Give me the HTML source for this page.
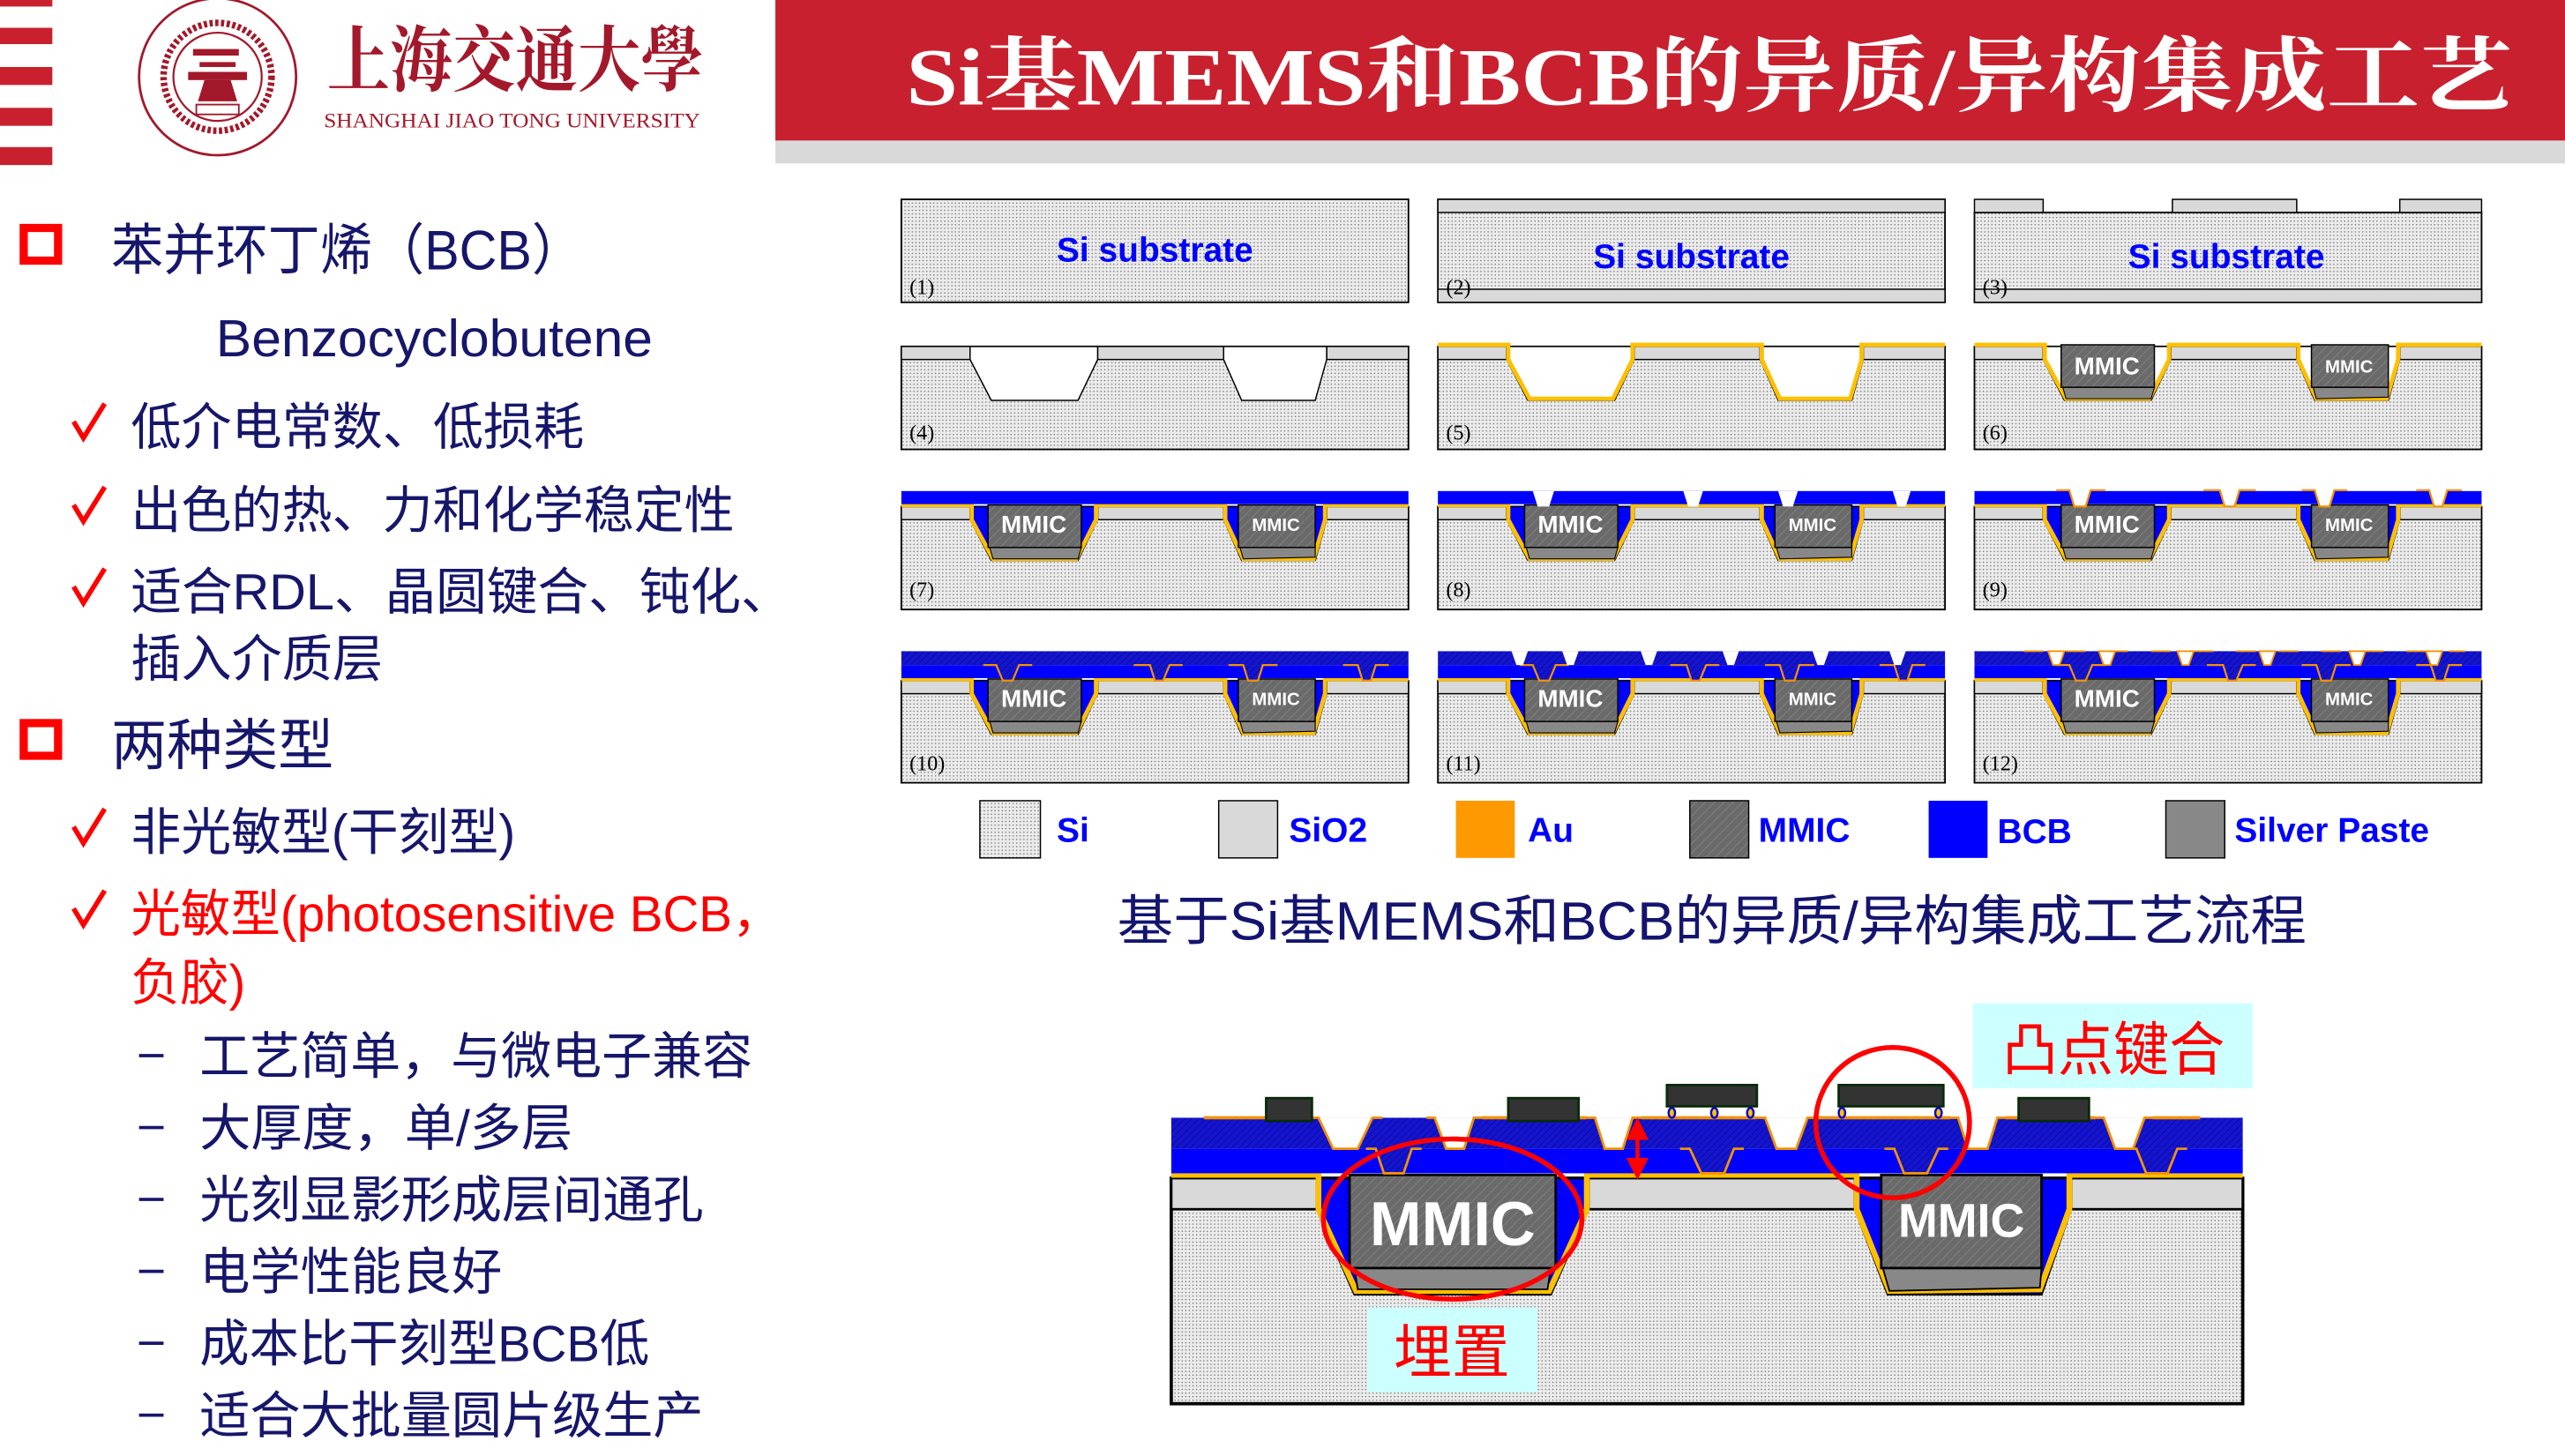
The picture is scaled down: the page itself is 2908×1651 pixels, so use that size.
<!DOCTYPE html>
<html><head><meta charset="utf-8"><style>
html,body{margin:0;padding:0;background:#fff;}
svg{display:block;}
.cn{font-family:"Liberation Sans","Noto Sans CJK SC",sans-serif;}
.ab{font-family:"Liberation Sans",sans-serif;font-weight:bold;}
.sf{font-family:"Liberation Serif",serif;}
.tt{font-family:"Liberation Serif","Noto Serif CJK SC",serif;font-weight:bold;}
</style></head><body>
<svg width="2908" height="1651" viewBox="0 0 1568 891" preserveAspectRatio="none" xmlns="http://www.w3.org/2000/svg">
<defs>
<pattern id="dot" patternUnits="userSpaceOnUse" width="2.2" height="2.2"><rect width="2.2" height="2.2" fill="#ebebeb"/><circle cx="1.1" cy="1.1" r="0.42" fill="#777"/></pattern>
<pattern id="hat" patternUnits="userSpaceOnUse" width="4" height="4" patternTransform="rotate(45)"><rect width="4" height="4" fill="#6a6a6a"/><line x1="0" y1="0" x2="0" y2="4" stroke="#7e7e7e" stroke-width="1.2"/></pattern>
<pattern id="bh" patternUnits="userSpaceOnUse" width="3" height="3" patternTransform="rotate(45)"><rect width="3" height="3" fill="#1414d0"/><line x1="0" y1="0" x2="0" y2="3" stroke="#08088a" stroke-width="0.8"/></pattern>
<g id="ox" fill="#d9d9d9" stroke="#000" stroke-width="0.8"><rect x="0" y="0" width="42" height="8"/><rect x="120" y="0" width="77" height="8"/><rect x="260" y="0" width="50" height="8"/></g>
<g id="tr"><polygon points="42,0 42,8 55,33 108,33 120,8 120,0"/><polygon points="197,0 197,8 208,33 253,33 260,8 260,0"/></g>
<polyline id="au" points="0,-1 43,-1 43,8 56,32 107,32 119,8 119,-1 198,-1 198,8 209,32 252,32 259,8 259,-1 310,-1" fill="none" stroke="#ffc000" stroke-width="2.6"/>
<g id="chips"><polygon points="54,25 110,25 108,32 56,32" fill="#888" stroke="#000" stroke-width="0.6"/><rect x="53" y="-1" width="57" height="26" fill="url(#hat)" stroke="#000" stroke-width="0.8"/><polygon points="207,25 253,25 253,31 209,32" fill="#888" stroke="#000" stroke-width="0.6"/><rect x="206" y="-1" width="47" height="26" fill="url(#hat)" stroke="#000" stroke-width="0.8"/></g>
<g id="v8" fill="#fff"><polygon points="58,-9.5 71,-9.5 68,0 61,0"/><polygon points="150,-9.5 162,-9.5 159,0 153,0"/><polygon points="208,-9.5 220,-9.5 217,0 211,0"/><polygon points="278,-9.5 289,-9.5 286,0 281,0"/></g>
<g id="v9" fill="#fff" stroke="#f39200" stroke-width="1.2"><polyline points="50,-10 58,-10 61,0 68,0 71,-10 80,-10"/><polyline points="140,-10 150,-10 153,0 159,0 162,-10 172,-10"/><polyline points="200,-10 208,-10 211,0 217,0 220,-10 228,-10"/><polyline points="270,-10 278,-10 281,0 286,0 289,-10 298,-10"/></g>
<g id="lv" fill="url(#bh)" stroke="#f39200" stroke-width="1.2"><polyline points="50,-9.5 58,-9.5 62,0 68,0 72,-9.5 80,-9.5"/><polyline points="142,-9.5 152,-9.5 155,0 160,0 164,-9.5 172,-9.5"/><polyline points="200,-9.5 209,-9.5 212,0 218,0 221,-9.5 230,-9.5"/><polyline points="270,-9.5 279,-9.5 282,0 287,0 290,-9.5 298,-9.5"/></g>
<g id="uv" fill="#fff"><polygon points="45,-18 55,-18 52,-9.5 48,-9.5"/><polygon points="76,-18 86,-18 83,-9.5 79,-9.5"/><polygon points="124,-18 134,-18 131,-9.5 127,-9.5"/><polygon points="174,-18 184,-18 181,-9.5 177,-9.5"/><polygon points="229,-18 239,-18 236,-9.5 232,-9.5"/><polygon points="276,-18 286,-18 283,-9.5 279,-9.5"/></g>
</defs>

<!-- header -->
<g fill="#c8202e"><rect x="0" y="0" width="32" height="4"/><rect x="0" y="17" width="32" height="10"/><rect x="0" y="41" width="32" height="11"/><rect x="0" y="66" width="32" height="11"/><rect x="0" y="90" width="32" height="11"/></g>
<g fill="none" stroke="#a3182a"><circle cx="133" cy="47" r="48" stroke-width="1.5"/><circle cx="133" cy="47" r="33" stroke-width="4" stroke-dasharray="2 1.5"/><circle cx="133" cy="47" r="27" stroke-width="1.2"/></g>
<g fill="#a3182a"><rect x="118" y="30" width="28" height="4"/><rect x="122" y="38" width="22" height="3"/><rect x="115" y="44" width="36" height="5"/><polygon points="125,49 141,49 145,62 121,62"/><rect x="120" y="64" width="26" height="6" fill="none" stroke="#a3182a"/></g>
<text x="200" y="52" class="tt" font-size="44" fill="#a3182a" textLength="230" lengthAdjust="spacingAndGlyphs" style="font-family:'Noto Serif CJK SC',serif;font-weight:bold">上海交通大學</text>
<text x="198" y="78" class="sf" font-size="12.5" fill="#a3182a" textLength="230" lengthAdjust="spacingAndGlyphs">SHANGHAI JIAO TONG UNIVERSITY</text>
<rect x="474" y="86" width="1094" height="14" fill="#d9d9d9"/>
<rect x="474" y="0" width="1094" height="86" fill="#c8202e"/>
<text x="554" y="64" class="tt" font-size="50" fill="#fff" textLength="982" lengthAdjust="spacingAndGlyphs">Si基MEMS和BCB的异质/异构集成工艺</text>

<!-- left text -->
<g fill="none" stroke="#f00" stroke-width="5"><rect x="14.5" y="139.5" width="21" height="20"/><rect x="14.5" y="442.5" width="21" height="20"/></g>
<g class="cn" fill="#16166b">
<text x="68" y="165" font-size="34" textLength="289" lengthAdjust="spacingAndGlyphs">苯并环丁烯（BCB）</text>
<text x="132" y="218" font-size="32" textLength="267" lengthAdjust="spacingAndGlyphs">Benzocyclobutene</text>
<text x="80" y="272" font-size="31" textLength="277" lengthAdjust="spacingAndGlyphs">低介电常数、低损耗</text>
<text x="80" y="323" font-size="31" textLength="369" lengthAdjust="spacingAndGlyphs">出色的热、力和化学稳定性</text>
<text x="80" y="373" font-size="31" textLength="404" lengthAdjust="spacingAndGlyphs">适合RDL、晶圆键合、钝化、</text>
<text x="80" y="414" font-size="31" textLength="154" lengthAdjust="spacingAndGlyphs">插入介质层</text>
<text x="68" y="468" font-size="34" textLength="136" lengthAdjust="spacingAndGlyphs">两种类型</text>
<text x="80" y="520" font-size="31" textLength="235" lengthAdjust="spacingAndGlyphs">非光敏型(干刻型)</text>
<text x="80" y="570" font-size="31" fill="#f00" textLength="398" lengthAdjust="spacingAndGlyphs">光敏型(photosensitive BCB，</text>
<text x="80" y="612" font-size="31" fill="#f00" textLength="70" lengthAdjust="spacingAndGlyphs">负胶)</text>
<text x="122" y="657" font-size="31" textLength="338" lengthAdjust="spacingAndGlyphs">工艺简单，与微电子兼容</text>
<text x="122" y="701" font-size="31" textLength="228" lengthAdjust="spacingAndGlyphs">大厚度，单/多层</text>
<text x="122" y="745" font-size="31" textLength="308" lengthAdjust="spacingAndGlyphs">光刻显影形成层间通孔</text>
<text x="122" y="789" font-size="31" textLength="185" lengthAdjust="spacingAndGlyphs">电学性能良好</text>
<text x="122" y="833" font-size="31" textLength="275" lengthAdjust="spacingAndGlyphs">成本比干刻型BCB低</text>
<text x="122" y="877" font-size="31" textLength="308" lengthAdjust="spacingAndGlyphs">适合大批量圆片级生产</text>
</g>
<g stroke="#16166b" stroke-width="2"><line x1="85" y1="646" x2="100" y2="646"/><line x1="85" y1="690" x2="100" y2="690"/><line x1="85" y1="734" x2="100" y2="734"/><line x1="85" y1="778" x2="100" y2="778"/><line x1="85" y1="822" x2="100" y2="822"/><line x1="85" y1="866" x2="100" y2="866"/></g>
<g fill="none" stroke="#f00" stroke-width="3"><polyline points="45,258 51,268 64,247"/><polyline points="45,309 51,319 64,298"/><polyline points="45,359 51,369 64,348"/><polyline points="45,506 51,516 64,495"/><polyline points="45,556 51,566 64,545"/></g>

<!-- row 1 -->
<rect x="551" y="122" width="310" height="63" fill="url(#dot)" stroke="#000" stroke-width="1"/>
<text x="706" y="160" class="ab" font-size="21" fill="#00f" text-anchor="middle">Si  substrate</text>
<text x="556" y="180" class="sf" font-size="13">(1)</text>
<rect x="879" y="122" width="310" height="63" fill="url(#dot)" stroke="#000" stroke-width="1"/>
<g fill="#d9d9d9" stroke="#000" stroke-width="0.8"><rect x="879" y="122" width="310" height="8"/><rect x="879" y="177" width="310" height="8"/></g>
<text x="1034" y="164" class="ab" font-size="21" fill="#00f" text-anchor="middle">Si substrate</text>
<text x="884" y="180" class="sf" font-size="13">(2)</text>
<rect x="1207" y="130" width="310" height="55" fill="url(#dot)" stroke="#000" stroke-width="1"/>
<g fill="#d9d9d9" stroke="#000" stroke-width="0.8"><rect x="1207" y="122" width="42" height="8"/><rect x="1328" y="122" width="76" height="8"/><rect x="1467" y="122" width="50" height="8"/><rect x="1207" y="177" width="310" height="8"/></g>
<text x="1361" y="164" class="ab" font-size="21" fill="#00f" text-anchor="middle">Si substrate</text>
<text x="1212" y="180" class="sf" font-size="13">(3)</text>

<!-- row 2 -->
<g transform="translate(551,212)"><rect width="310" height="63" fill="url(#dot)" stroke="#000"/><use href="#ox"/><use href="#tr" fill="#fff" stroke="#000" stroke-width="0.8"/><text x="5" y="57" class="sf" font-size="13">(4)</text></g>
<g transform="translate(879,212)"><rect width="310" height="63" fill="url(#dot)" stroke="#000"/><use href="#ox"/><use href="#tr" fill="#fff" stroke="#000" stroke-width="0.8"/><use href="#au"/><text x="5" y="57" class="sf" font-size="13">(5)</text></g>
<g transform="translate(1207,212)"><rect width="310" height="63" fill="url(#dot)" stroke="#000"/><use href="#ox"/><use href="#tr" fill="#fff" stroke="#000" stroke-width="0.8"/><use href="#au"/><use href="#chips"/><text x="5" y="57" class="sf" font-size="13">(6)</text>
<text x="81" y="17" class="ab" font-size="15" fill="#fff" text-anchor="middle">MMIC</text><text x="229" y="16" class="ab" font-size="11" fill="#fff" text-anchor="middle">MMIC</text></g>

<!-- row 3 -->
<g transform="translate(551,310)"><rect width="310" height="63" fill="url(#dot)" stroke="#000"/><use href="#ox"/><use href="#tr" fill="#00f" stroke="#000" stroke-width="0.8"/><use href="#au"/><use href="#chips"/><rect x="0" y="-9.5" width="310" height="8" fill="#00f"/><text x="5" y="55" class="sf" font-size="13">(7)</text>
<text x="81" y="16" class="ab" font-size="15" fill="#fff" text-anchor="middle">MMIC</text><text x="229" y="15" class="ab" font-size="11" fill="#fff" text-anchor="middle">MMIC</text></g>
<g transform="translate(879,310)"><rect width="310" height="63" fill="url(#dot)" stroke="#000"/><use href="#ox"/><use href="#tr" fill="#00f" stroke="#000" stroke-width="0.8"/><use href="#au"/><use href="#chips"/><rect x="0" y="-9.5" width="310" height="8" fill="#00f"/><use href="#v8"/><text x="5" y="55" class="sf" font-size="13">(8)</text>
<text x="81" y="16" class="ab" font-size="15" fill="#fff" text-anchor="middle">MMIC</text><text x="229" y="15" class="ab" font-size="11" fill="#fff" text-anchor="middle">MMIC</text></g>
<g transform="translate(1207,310)"><rect width="310" height="63" fill="url(#dot)" stroke="#000"/><use href="#ox"/><use href="#tr" fill="#00f" stroke="#000" stroke-width="0.8"/><use href="#au"/><use href="#chips"/><rect x="0" y="-9.5" width="310" height="8" fill="#00f"/><use href="#v9"/><text x="5" y="55" class="sf" font-size="13">(9)</text>
<text x="81" y="16" class="ab" font-size="15" fill="#fff" text-anchor="middle">MMIC</text><text x="229" y="15" class="ab" font-size="11" fill="#fff" text-anchor="middle">MMIC</text></g>

<!-- row 4 -->
<g transform="translate(551,416.5)"><rect width="310" height="62.5" fill="url(#dot)" stroke="#000"/><use href="#ox"/><use href="#tr" fill="#00f" stroke="#000" stroke-width="0.8"/><use href="#au"/><use href="#chips"/><rect x="0" y="-9.5" width="310" height="8" fill="#00f"/><rect x="0" y="-18" width="310" height="8.5" fill="url(#bh)"/><use href="#lv"/><text x="5" y="55" class="sf" font-size="13">(10)</text>
<text x="81" y="16" class="ab" font-size="15" fill="#fff" text-anchor="middle">MMIC</text><text x="229" y="15" class="ab" font-size="11" fill="#fff" text-anchor="middle">MMIC</text></g>
<g transform="translate(879,416.5)"><rect width="310" height="62.5" fill="url(#dot)" stroke="#000"/><use href="#ox"/><use href="#tr" fill="#00f" stroke="#000" stroke-width="0.8"/><use href="#au"/><use href="#chips"/><rect x="0" y="-9.5" width="310" height="8" fill="#00f"/><rect x="0" y="-18" width="310" height="8.5" fill="url(#bh)"/><use href="#lv"/><use href="#uv"/><text x="5" y="55" class="sf" font-size="13">(11)</text>
<text x="81" y="16" class="ab" font-size="15" fill="#fff" text-anchor="middle">MMIC</text><text x="229" y="15" class="ab" font-size="11" fill="#fff" text-anchor="middle">MMIC</text></g>
<g transform="translate(1207,416.5)"><rect width="310" height="62.5" fill="url(#dot)" stroke="#000"/><use href="#ox"/><use href="#tr" fill="#00f" stroke="#000" stroke-width="0.8"/><use href="#au"/><use href="#chips"/><rect x="0" y="-9.5" width="310" height="8" fill="#00f"/><rect x="0" y="-18" width="310" height="8.5" fill="url(#bh)"/><use href="#lv"/><use href="#uv" stroke="#f39200" stroke-width="1"/><line x1="30" y1="-18" x2="300" y2="-18" stroke="#f39200" stroke-width="1" stroke-dasharray="12 14"/><text x="5" y="55" class="sf" font-size="13">(12)</text>
<text x="81" y="16" class="ab" font-size="15" fill="#fff" text-anchor="middle">MMIC</text><text x="229" y="15" class="ab" font-size="11" fill="#fff" text-anchor="middle">MMIC</text></g>

<!-- legend -->
<g stroke="#000" stroke-width="0.8">
<rect x="599" y="490" width="37" height="35" fill="url(#dot)"/>
<rect x="745" y="490" width="36" height="35" fill="#d9d9d9"/>
<rect x="890" y="490" width="36" height="35" fill="#ff9900" stroke="none"/>
<rect x="1033" y="490" width="36" height="35" fill="url(#hat)"/>
<rect x="1179" y="490" width="36" height="35" fill="#0000ff" stroke="none"/>
<rect x="1324" y="490" width="36" height="35" fill="#888"/>
</g>
<g class="ab" font-size="21" fill="#0000ff">
<text x="646" y="515">Si</text><text x="788" y="515">SiO2</text><text x="934" y="515">Au</text><text x="1075" y="515">MMIC</text><text x="1221" y="516">BCB</text><text x="1366" y="515">Silver Paste</text>
</g>
<text x="683" y="575" class="cn" font-size="33" fill="#141470" textLength="727" lengthAdjust="spacingAndGlyphs">基于Si基MEMS和BCB的异质/异构集成工艺流程</text>

<!-- big diagram -->
<rect x="716" y="721" width="655" height="138" fill="url(#dot)" stroke="#000" stroke-width="2"/>
<g fill="#d9d9d9" stroke="#000" stroke-width="1.5"><rect x="716" y="721" width="89" height="19"/><rect x="971" y="721" width="163" height="19"/><rect x="1266" y="721" width="105" height="19"/></g>
<g fill="#00f" stroke="#000" stroke-width="1.5"><polygon points="805,721 805,740 828,792 948,792 971,740 971,721"/><polygon points="1134,721 1134,740 1154,792 1248,792 1266,740 1266,721"/></g>
<polyline points="716,719 806,719 806,740 829,790 947,790 970,740 970,719 1135,719 1135,740 1155,790 1247,789 1265,740 1265,719 1371,719" fill="none" stroke="#ffc000" stroke-width="3.5"/>
<polygon points="828,776 948,776 946,789 830,789" fill="#888" stroke="#000"/>
<rect x="825" y="719" width="126" height="57" fill="url(#hat)" stroke="#000" stroke-width="1.5"/>
<polygon points="1151,776 1248,776 1247,788 1155,790" fill="#888" stroke="#000"/>
<rect x="1150" y="719" width="98" height="57" fill="url(#hat)" stroke="#000" stroke-width="1.5"/>
<text x="888" y="762" class="ab" font-size="38" fill="#fff" text-anchor="middle">MMIC</text>
<text x="1199" y="757" class="ab" font-size="29" fill="#fff" text-anchor="middle">MMIC</text>
<rect x="716" y="703" width="655" height="15" fill="#00f"/>
<rect x="716" y="684" width="655" height="19" fill="url(#bh)"/>
<g fill="url(#bh)" stroke="#f39200" stroke-width="1.5"><polyline points="835,703 841,703 846,718 858,718 863,703 869,703"/><polyline points="1027,703 1033,703 1040,718 1054,718 1060,703 1066,703"/><polyline points="1152,703 1158,703 1164,718 1178,718 1185,703 1191,703"/><polyline points="1300,703 1306,703 1312,718 1325,718 1331,703 1337,703"/></g>
<g fill="#fff" stroke="#f39200" stroke-width="1.5"><polyline points="800,684 806,684 815,703 830,703 839,684 845,684"/><polyline points="872,684 877,684 884,703 895,703 901,684 906,684"/><polyline points="970,684 975,684 981,703 992,703 998,684 1003,684"/><polyline points="1073,684 1079,684 1086,703 1098,703 1105,684 1110,684"/><polyline points="1192,684 1197,684 1203,703 1215,703 1221,684 1226,684"/><polyline points="1281,684 1286,684 1293,703 1304,703 1311,684 1316,684"/></g>
<g stroke="#f39200" stroke-width="2"><line x1="736" y1="684" x2="800" y2="684"/><line x1="906" y1="684" x2="970" y2="684"/><line x1="1003" y1="684" x2="1073" y2="684"/><line x1="1110" y1="684" x2="1192" y2="684"/><line x1="1226" y1="684" x2="1281" y2="684"/><line x1="1316" y1="684" x2="1345" y2="684"/></g>
<g fill="#333" stroke="#0a2a0a" stroke-width="1.5"><rect x="774" y="672" width="28" height="14"/><rect x="922" y="672" width="43" height="14"/><rect x="1234" y="672" width="43" height="14"/><rect x="1019" y="664" width="55" height="13"/><rect x="1124" y="664" width="64" height="13"/></g>
<g fill="#ffc000" stroke="#0000d0" stroke-width="1.3"><ellipse cx="1022" cy="681" rx="2" ry="3"/><ellipse cx="1048" cy="681" rx="2" ry="3"/><ellipse cx="1070" cy="681" rx="2" ry="3"/><ellipse cx="1126" cy="681" rx="2" ry="3"/><ellipse cx="1185" cy="681" rx="2" ry="3"/></g>
<g stroke="#f00" fill="#f00"><line x1="1001" y1="695" x2="1001" y2="711" stroke-width="2.5"/><polygon points="995,697 1007,697 1001,685"/><polygon points="995,709 1007,709 1001,721"/></g>
<g fill="none" stroke="#f00" stroke-width="3"><ellipse cx="888" cy="746" rx="79" ry="49"/><ellipse cx="1157" cy="687" rx="47" ry="46"/></g>
<rect x="1206" y="614" width="171" height="52" fill="#ccffff"/>
<text x="1224" y="655" class="cn" font-size="36" fill="#f00" textLength="136" lengthAdjust="spacingAndGlyphs">凸点键合</text>
<rect x="836" y="800" width="104" height="52" fill="#ccffff"/>
<text x="852" y="840" class="cn" font-size="36" fill="#f00" textLength="71" lengthAdjust="spacingAndGlyphs">埋置</text>
</svg>
</body></html>
